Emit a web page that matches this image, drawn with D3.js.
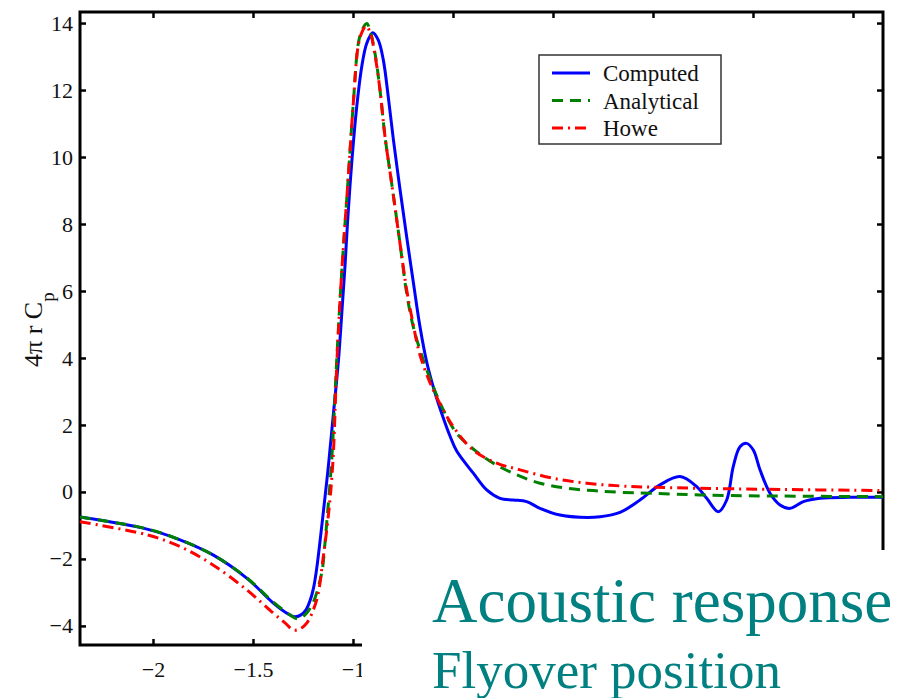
<!DOCTYPE html>
<html>
<head>
<meta charset="utf-8">
<script src="https://cdn.jsdelivr.net/npm/d3@7"></script>
<style>
  body { margin: 0; background: #fff; }
  svg { display: block; }
</style>
</head>
<body>
<div id="chart"></div>
<script>
// 曲線資料 (讀自圖片)
const computedX = [-2.365, -2.03, -1.865, -1.70, -1.53, -1.40, -1.325, -1.29, -1.26, -1.235, -1.215, -1.1975, -1.1825, -1.1675, -1.15, -1.1225, -1.0975, -1.0725, -1.055, -1.04, -1.0275, -1.0065, -0.9815, -0.9565, -0.9315, -0.9015, -0.8735, -0.8485, -0.8235, -0.7985, -0.765, -0.7315, -0.6985, -0.665, -0.6315, -0.59, -0.5485, -0.515, -0.4815, -0.3985, -0.3315, -0.265, -0.1985, -0.1315, -0.065, 0.035, 0.135, 0.235, 0.335, 0.435, 0.535, 0.635, 0.7185, 0.7685, 0.8265, 0.8685, 0.9015, 0.935, 0.9685, 1.0015, 1.035, 1.085, 1.135, 1.185, 1.2515, 1.335, 1.485, 1.65];
const computedY = [-0.75, -1.11, -1.43, -1.88, -2.58, -3.31, -3.64, -3.73, -3.67, -3.52, -3.25, -2.87, -2.33, -1.61, -0.69, 0.81, 2.36, 3.94, 5.43, 6.75, 8.03, 9.82, 11.49, 12.69, 13.39, 13.71, 13.49, 12.90, 11.79, 10.54, 9.04, 7.61, 6.27, 4.93, 3.88, 2.96, 2.21, 1.67, 1.22, 0.56, 0.06, -0.19, -0.24, -0.29, -0.49, -0.69, -0.755, -0.74, -0.61, -0.24, 0.21, 0.46, 0.16, -0.19, -0.59, -0.24, 0.76, 1.35, 1.45, 1.25, 0.66, -0.04, -0.39, -0.49, -0.29, -0.19, -0.16, -0.16];

const analyticalX = [-2.365, -2.03, -1.865, -1.70, -1.53, -1.40, -1.315, -1.275, -1.24, -1.20, -1.1565, -1.14, -1.1315, -1.1065, -1.0815, -1.0565, -1.0235, -0.9985, -0.9735, -0.955, -0.9315, -0.915, -0.89, -0.865, -0.84, -0.8065, -0.765, -0.7315, -0.6985, -0.6485, -0.5985, -0.5485, -0.4815, -0.3815, -0.2985, -0.1815, -0.065, 0.0685, 0.2015, 0.335, 0.5015, 0.735, 1.0685, 1.65];
const analyticalY = [-0.75, -1.10, -1.43, -1.88, -2.57, -3.28, -3.67, -3.79, -3.67, -3.31, -2.42, -1.52, -0.93, 0.955, 3.94, 6.54, 9.41, 11.60, 13.39, 13.79, 13.99, 13.79, 13.10, 12.00, 10.61, 9.21, 7.42, 5.93, 4.93, 3.94, 3.14, 2.45, 1.75, 1.20, 0.86, 0.51, 0.26, 0.11, 0.04, -0.01, -0.04, -0.09, -0.12, -0.14];

const howeX = [-2.365, -2.03, -1.865, -1.70, -1.53, -1.3985, -1.34, -1.2985, -1.265, -1.2315, -1.1815, -1.1485, -1.1185, -1.10, -1.08, -1.0565, -1.0235, -0.9985, -0.9735, -0.955, -0.935, -0.915, -0.89, -0.865, -0.84, -0.8065, -0.765, -0.7315, -0.6985, -0.665, -0.5985, -0.4985, -0.3985, -0.2815, -0.165, -0.0015, 0.1685, 0.335, 0.5015, 0.735, 1.0685, 1.65];
const howeY = [-0.89, -1.28, -1.63, -2.18, -2.93, -3.62, -3.91, -4.12, -4.09, -3.92, -3.22, -1.93, -0.44, 0.955, 3.94, 6.54, 9.41, 11.60, 13.34, 13.73, 13.91, 13.73, 13.04, 12.00, 10.61, 9.21, 7.42, 6.03, 4.99, 4.09, 3.04, 1.95, 1.25, 0.86, 0.66, 0.41, 0.26, 0.18, 0.14, 0.11, 0.08, 0.04];

const xTicks = [-2, -1.5, -1, -0.5, 0, 0.5, 1, 1.5];
const xTickLabels = ["\u22122", "\u22121.5", "\u22121"];
const yTicks = [-4, -2, 0, 2, 4, 6, 8, 10, 12, 14];
const seriesNames = ["Computed", "Analytical", "Howe"];

const W = 908, H = 698;
const plotLeft = 80, plotRight = 883, plotTop = 12, plotBottom = 645;
const serif = "'Liberation Serif', 'Times New Roman', serif";

const svg = d3.select("#chart").append("svg")
    .attr("width", W)
    .attr("height", H);

// 比例尺
const x = d3.scaleLinear().domain([-2.365, 1.65]).range([plotLeft, plotRight]);
const y = d3.scaleLinear().domain([-4.57, 14.33]).range([plotBottom, plotTop]);

svg.append("clipPath").attr("id", "plot-clip")
    .append("rect")
    .attr("x", plotLeft).attr("y", plotTop)
    .attr("width", plotRight - plotLeft).attr("height", plotBottom - plotTop);

const fmt = d3.format("");

// 軸 (刻度朝內); 下方只標出未被標題蓋住的刻度
const xAxisBottom = svg.append("g")
    .attr("transform", `translate(0,${plotBottom})`)
    .call(d3.axisBottom(x).tickValues(xTicks)
        .tickFormat((d, i) => xTickLabels[i] || "")
        .tickSizeInner(-6).tickSizeOuter(0).tickPadding(12));
const xAxisTop = svg.append("g")
    .attr("transform", `translate(0,${plotTop})`)
    .call(d3.axisTop(x).tickValues(xTicks).tickFormat("").tickSizeInner(-6).tickSizeOuter(0));
const yAxisLeft = svg.append("g")
    .attr("transform", `translate(${plotLeft},0)`)
    .call(d3.axisLeft(y).tickValues(yTicks).tickFormat(fmt).tickSizeInner(-6).tickSizeOuter(0).tickPadding(7));
const yAxisRight = svg.append("g")
    .attr("transform", `translate(${plotRight},0)`)
    .call(d3.axisRight(y).tickValues(yTicks).tickFormat("").tickSizeInner(-6).tickSizeOuter(0));

[xAxisBottom, xAxisTop, yAxisLeft, yAxisRight].forEach(g => {
    g.select(".domain").remove();
    g.attr("font-family", null).attr("font-size", null);
    g.selectAll(".tick line").attr("stroke", "#000").attr("stroke-width", 2.5);
    g.selectAll(".tick text")
        .style("font-family", serif)
        .style("font-size", "22px")
        .attr("fill", "#111");
});
xAxisBottom.selectAll(".tick text").attr("dy", "0.9em");

// 外框
svg.append("rect")
    .attr("x", plotLeft).attr("y", plotTop)
    .attr("width", plotRight - plotLeft).attr("height", plotBottom - plotTop)
    .attr("fill", "none")
    .attr("stroke", "#000")
    .attr("stroke-width", 3);

// 曲線
const line = d3.line()
    .x(d => x(d[0]))
    .y(d => y(d[1]))
    .curve(d3.curveCatmullRom.alpha(0.5));

const series = [
    {name: seriesNames[0], xs: computedX, ys: computedY, color: "#0000ff", dash: null},
    {name: seriesNames[1], xs: analyticalX, ys: analyticalY, color: "#008000", dash: "11,7"},
    {name: seriesNames[2], xs: howeX, ys: howeY, color: "#ff0000", dash: "11,5,2,5"}
];

const plot = svg.append("g").attr("clip-path", "url(#plot-clip)");
series.forEach(s => {
    plot.append("path")
        .datum(d3.zip(s.xs, s.ys))
        .attr("fill", "none")
        .attr("stroke", s.color)
        .attr("stroke-width", 3)
        .attr("stroke-dasharray", s.dash)
        .attr("d", line);
});

// 圖例
const legend = svg.append("g").attr("transform", "translate(539,55)");
legend.append("rect")
    .attr("width", 182).attr("height", 89)
    .attr("fill", "#fff")
    .attr("stroke", "#333")
    .attr("stroke-width", 1.5);
series.forEach((s, i) => {
    const ly = 18 + i * 27.5;
    legend.append("line")
        .attr("x1", 13).attr("x2", 51)
        .attr("y1", ly).attr("y2", ly)
        .attr("stroke", s.color)
        .attr("stroke-width", 3)
        .attr("stroke-dasharray", s.dash);
    legend.append("text")
        .attr("x", 64).attr("y", ly + 8)
        .style("font-family", serif)
        .style("font-size", "23px")
        .attr("fill", "#111")
        .text(s.name);
});

// y 軸標題
const yLabel = svg.append("text")
    .attr("transform", "rotate(-90)")
    .attr("x", -367)
    .attr("y", 42)
    .style("font-family", serif)
    .style("font-size", "26px")
    .attr("fill", "#111");
yLabel.append("tspan").text("4\u03c0 r C");
yLabel.append("tspan").attr("dy", 12).style("font-size", "19px").text("p");

// 右下角的白色覆蓋與標題
svg.append("rect")
    .attr("x", 362).attr("y", 550)
    .attr("width", W - 362).attr("height", H - 550)
    .attr("fill", "#fff");

svg.append("text")
    .attr("x", 432).attr("y", 622)
    .style("font-family", serif)
    .style("font-size", "63px")
    .attr("fill", "#008080")
    .text("Acoustic response");
svg.append("text")
    .attr("x", 432).attr("y", 688)
    .style("font-family", serif)
    .style("font-size", "53px")
    .attr("fill", "#008080")
    .text("Flyover position");
</script>
</body>
</html>
